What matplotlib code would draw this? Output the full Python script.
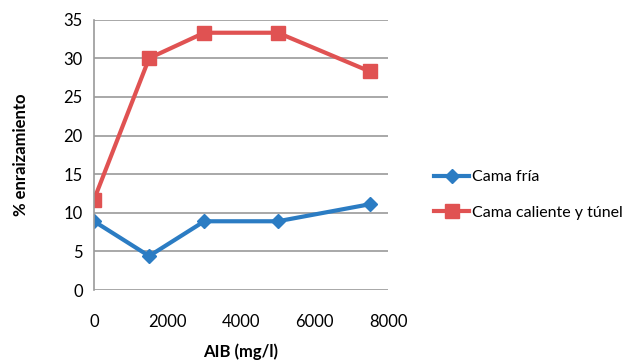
import numpy as np
import matplotlib.pyplot as plt

plt.rcParams['font.family'] = ['Lato', 'DejaVu Sans']

aib = [0, 1500, 3000, 5000, 7500]
cama_fria = [8.9, 4.4, 8.9, 8.9, 11.1]
cama_caliente = [11.7, 30.0, 33.3, 33.3, 28.3]

fig = plt.figure(figsize=(6.31, 3.63), dpi=100)
ax = fig.add_axes([0.149, 0.201, 0.466, 0.745])

ax.plot(aib, cama_fria, color="#2B7CC3", lw=3, marker="D", ms=7, label="Cama fría")
ax.plot(aib, cama_caliente, color="#E05252", lw=3, marker="s", ms=9.5, label="Cama caliente y túnel")

ax.set_xlim(0, 8000)
ax.set_ylim(0, 35)
ax.set_xticks(np.arange(0, 8001, 2000))
ax.set_yticks(np.arange(0, 36, 5))
ax.grid(axis="y", color="#9A9A9A", lw=1.2)
ax.set_axisbelow(True)
for s in ["top", "right", "bottom"]:
    ax.spines[s].set_visible(False)
ax.spines["left"].set_color("#9A9A9A")
ax.spines["left"].set_linewidth(1.2)
ax.tick_params(length=0, labelsize=12)
ax.tick_params(axis="x", pad=17)
ax.tick_params(axis="y", pad=8)
ax.set_xlabel("AIB (mg/l)", fontsize=12, fontweight="bold", labelpad=10)
ax.set_ylabel("% enraizamiento", fontsize=12, fontweight="bold", labelpad=25)

fig.legend(loc="center left", bbox_to_anchor=(0.688, 0.463), frameon=False,
           fontsize=11.5, handlelength=2.2, handletextpad=0.15, labelspacing=1.35,
           borderpad=0, borderaxespad=0)

fig.savefig("out.png", dpi=100)
